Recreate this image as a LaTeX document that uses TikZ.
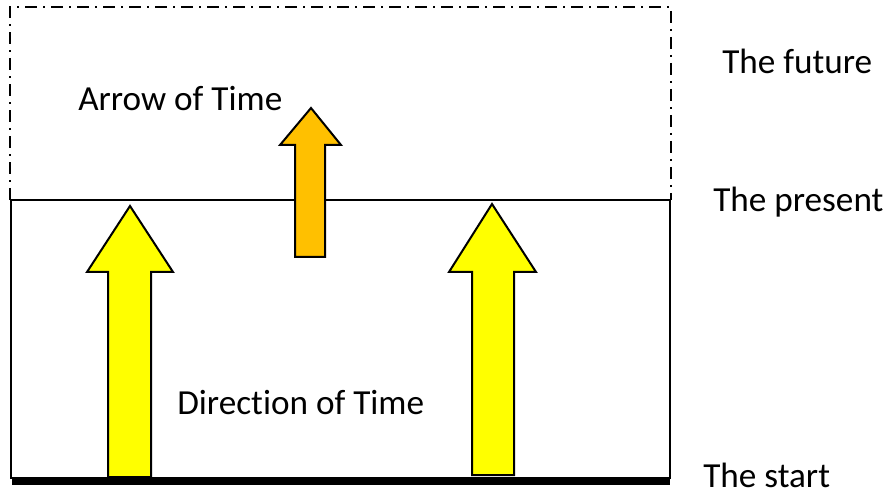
\documentclass[tikz,border=0pt]{standalone}
\usepackage{fontspec}
\setmainfont{Carlito}[RawFeature={-liga}]
\definecolor{arrowyellow}{HTML}{FFFF00}
\definecolor{arroworange}{HTML}{FFC000}
\begin{document}
\begin{tikzpicture}[x=0.75pt,y=-0.75pt,
  lbl/.style={anchor=base west,inner sep=0pt,font=\fontsize{26.4pt}{30pt}\selectfont},
  blockarrow/.style={draw=black,line width=1.5pt,line join=miter},
  future/.style={draw=black,line width=1.5pt,dash pattern=on 9pt off 4.5pt on 1.5pt off 4.5pt}]
\useasboundingbox (0,0) rectangle (889,495);
% future region (dash-dot)
\draw[future] (10,200) -- (10,7) -- (671,7) -- (671,200);
% present region
\draw[line width=1.1pt] (11,200) rectangle (670,478);
% start line
\draw[line width=6pt] (12,481) -- (670,481);
% yellow arrows
\draw[blockarrow,fill=arrowyellow] (108,477) -- (108,272) -- (87,272) -- (130,206) -- (173,272) -- (151,272) -- (151,477) -- cycle;
\draw[blockarrow,fill=arrowyellow] (472,475) -- (472,272) -- (449,272) -- (492,204) -- (536,272) -- (514,272) -- (514,475) -- cycle;
% orange arrow
\draw[blockarrow,fill=arroworange] (295,257) -- (295,145) -- (280,145) -- (311,108) -- (341,145) -- (325,145) -- (325,257) -- cycle;
% labels
\node[lbl] (arrowtime) at (78,111) {Arrow of Time};
\node[lbl] (dirtime) at (177,414) {Direction of Time};
\node[lbl] (future) at (722,74) {The future};
\node[lbl] (present) at (713,212) {The present};
\node[lbl] (start) at (703,487) {The start};
\end{tikzpicture}
\end{document}
